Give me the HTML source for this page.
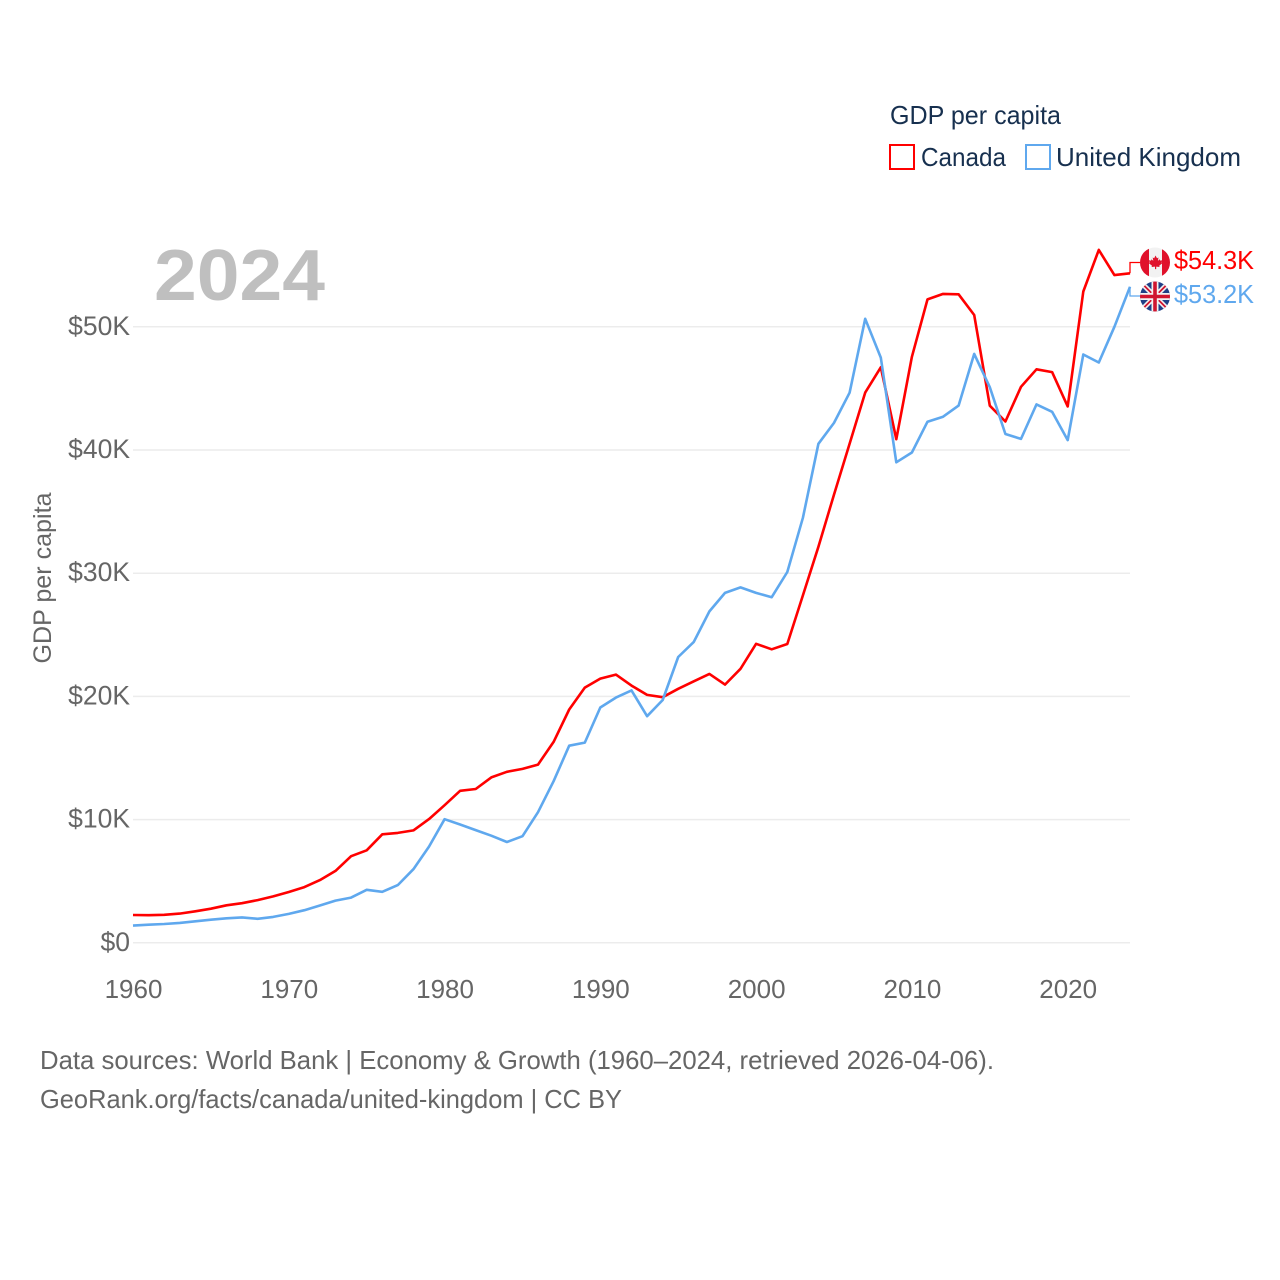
<!DOCTYPE html>
<html lang="en">
<head>
<meta charset="utf-8">
<title>GDP per capita: Canada and United Kingdom</title>
<style>
html,body{margin:0;padding:0;background:#fff;width:1280px;height:1280px;overflow:hidden}
svg{display:block;font-family:"Liberation Sans",sans-serif}
</style>
</head>
<body>
<svg id="chart" xmlns="http://www.w3.org/2000/svg" width="1280" height="1280" viewBox="0 0 1280 1280">
  <rect width="1280" height="1280" fill="#fff"/>
  <defs>
    <clipPath id="flag-clip-ca"><circle cx="1155" cy="262.500" r="15"/></clipPath>
    <clipPath id="flag-clip-uk"><circle cx="1155" cy="296.500" r="15"/></clipPath>
  </defs>
  <g id="grid"></g>
  <g id="y-ticks"></g>
  <g id="x-ticks"></g>
  <text transform="translate(51,578) rotate(-90)" text-anchor="middle" font-size="25" fill="#666" textLength="171" lengthAdjust="spacingAndGlyphs">GDP per capita</text>
  <text x="154" y="300" font-size="72" font-weight="700" fill="#bfbfbf" textLength="171" lengthAdjust="spacingAndGlyphs">2024</text>
  <g id="series"></g>

  <g clip-path="url(#flag-clip-ca)">
    <rect x="1140" y="247" width="30" height="31" fill="#f2f2f2"/>
    <rect x="1140" y="247" width="9" height="31" fill="#e0112b"/>
    <rect x="1162" y="247" width="8" height="31" fill="#e0112b"/>
    <path d="M1155.500 255.500l1.500 2.800 1.500-.8-.6 3.400 1.800-1.600.5 1.300 2.200-.4-.8 2.300 1 .5-3.400 2.700.4 1.300-3.400-.4v2.500h-1.200v-2.500l-3.400.4.400-1.300-3.400-2.700 1-.5-.8-2.300 2.200.4.500-1.300 1.800 1.600-.6-3.400 1.500.8z" fill="#e0112b"/>
  </g>
  <g clip-path="url(#flag-clip-uk)">
    <rect x="1140" y="281" width="30" height="31" fill="#1f3f86"/>
    <path d="M1140 281.500l30 30M1170 281.500l-30 30" stroke="#f2f2f2" stroke-width="5"/>
    <path d="M1140 281.500l30 30M1170 281.500l-30 30" stroke="#d0152f" stroke-width="1.800"/>
    <path d="M1155 281v31M1140 296.500h30" stroke="#f2f2f2" stroke-width="7"/>
    <path d="M1155 281v31M1140 296.500h30" stroke="#d0152f" stroke-width="3.600"/>
  </g>

  <text x="1174" y="269" font-size="26" fill="#ff0000" textLength="80" lengthAdjust="spacingAndGlyphs">$54.3K</text>
  <text x="1174" y="303" font-size="26" fill="#5fa8ee" textLength="80" lengthAdjust="spacingAndGlyphs">$53.2K</text>

  <g>
    <text x="890" y="124" font-size="26" fill="#17304f" textLength="171" lengthAdjust="spacingAndGlyphs">GDP per capita</text>
    <g>
      <rect x="890" y="145" width="24" height="24" fill="#fff" stroke="#ff0000" stroke-width="2"/>
      <text x="921" y="166" font-size="26" fill="#17304f" textLength="85" lengthAdjust="spacingAndGlyphs">Canada</text>
    </g>
    <g>
      <rect x="1026" y="145" width="24" height="24" fill="#fff" stroke="#5fa8ee" stroke-width="2"/>
      <text x="1056" y="166" font-size="26" fill="#17304f" textLength="185" lengthAdjust="spacingAndGlyphs">United Kingdom</text>
    </g>
  </g>

  <text x="40" y="1069" font-size="26" fill="#666" textLength="954" lengthAdjust="spacingAndGlyphs">Data sources: World Bank | Economy &amp; Growth (1960–2024, retrieved 2026-04-06).</text>
  <text x="40" y="1108" font-size="26" fill="#666" textLength="582" lengthAdjust="spacingAndGlyphs">GeoRank.org/facts/canada/united-kingdom | CC BY</text>
</svg>
<script>
const years = [1960,1961,1962,1963,1964,1965,1966,1967,1968,1969,1970,1971,1972,1973,1974,1975,1976,1977,1978,1979,1980,1981,1982,1983,1984,1985,1986,1987,1988,1989,1990,1991,1992,1993,1994,1995,1996,1997,1998,1999,2000,2001,2002,2003,2004,2005,2006,2007,2008,2009,2010,2011,2012,2013,2014,2015,2016,2017,2018,2019,2020,2021,2022,2023,2024];
const canadaValues = [2259,2240,2269,2374,2555,2770,3047,3217,3463,3764,4122,4520,5089,5838,7033,7512,8809,8919,9124,10043,11171,12337,12482,13425,13877,14115,14461,16308,18939,20716,21448,21768,20879,20121,19935,20614,21227,21827,20957,22238,24271,23822,24255,28200,32144,36382,40504,44659,46710,40876,47562,52224,52670,52638,50956,43596,42316,45129,46549,46327,43538,52863,56240,54200,54340];
const ukValues = [1398,1472,1526,1613,1748,1873,1986,2058,1952,2100,2348,2650,3030,3426,3665,4300,4138,4681,5977,7805,10033,9600,9150,8690,8180,8650,10600,13120,16000,16250,19100,19900,20490,18390,19710,23200,24420,26900,28400,28850,28400,28050,30100,34500,40500,42200,44650,50650,47500,39000,39800,42300,42700,43600,47800,45100,41300,40900,43700,43100,40800,47750,47100,50000,53250];
const yTickValues = [0,10000,20000,30000,40000,50000];
const yTickLabels = ['$0','$10K','$20K','$30K','$40K','$50K'];
const xTickValues = [1960,1970,1980,1990,2000,2010,2020];

const NS = 'http://www.w3.org/2000/svg';
const xMin = 133, xMax = 1130, yZero = 942.8, yFifty = 326.8;
function xScale(year) { return xMin + (year - 1960) / (2024 - 1960) * (xMax - xMin); }
function yScale(value) { return yZero + value / 50000 * (yFifty - yZero); }

const gridGroup = document.getElementById('grid');
const yGroup = document.getElementById('y-ticks');
const xGroup = document.getElementById('x-ticks');
const seriesGroup = document.getElementById('series');

yTickValues.forEach(function (v, i) {
  const line = document.createElementNS(NS, 'line');
  
  
  line.setAttribute('x1', xMin);
  line.setAttribute('x2', xMax);
  line.setAttribute('y1', yScale(v));
  line.setAttribute('y2', yScale(v));
  line.setAttribute('stroke', '#ececec');
  line.setAttribute('stroke-width', '1.5');
  gridGroup.appendChild(line);

  const label = document.createElementNS(NS, 'text');
  
  
  label.setAttribute('x', 130);
  label.setAttribute('y', yScale(v) + 8);
  label.setAttribute('text-anchor', 'end');
  label.setAttribute('font-size', '26.5');
  label.setAttribute('fill', '#666');
  label.textContent = yTickLabels[i];
  yGroup.appendChild(label);
});

xTickValues.forEach(function (year) {
  const label = document.createElementNS(NS, 'text');
  
  
  label.setAttribute('x', xScale(year) + 0.5);
  label.setAttribute('y', 998);
  label.setAttribute('text-anchor', 'middle');
  label.setAttribute('font-size', '26');
  label.setAttribute('fill', '#666');
  label.textContent = String(year);
  xGroup.appendChild(label);
});

function pathFor(values) {
  return values.map(function (v, i) {
    return (i ? 'L' : 'M') + xScale(years[i]).toFixed(1) + ' ' + yScale(v).toFixed(1);
  }).join('');
}

const canadaLine = document.createElementNS(NS, 'path');


canadaLine.setAttribute('d', pathFor(canadaValues));
canadaLine.setAttribute('fill', 'none');
canadaLine.setAttribute('stroke', '#ff0000');
canadaLine.setAttribute('stroke-width', '2.6');
canadaLine.setAttribute('stroke-linejoin', 'round');
seriesGroup.appendChild(canadaLine);

const ukLine = document.createElementNS(NS, 'path');


ukLine.setAttribute('d', pathFor(ukValues));
ukLine.setAttribute('fill', 'none');
ukLine.setAttribute('stroke', '#5fa8ee');
ukLine.setAttribute('stroke-width', '2.6');
ukLine.setAttribute('stroke-linejoin', 'round');
seriesGroup.appendChild(ukLine);

const lastIndex = years.length - 1;

const canadaConnector = document.createElementNS(NS, 'path');


canadaConnector.setAttribute('d', 'M' + xMax + ' ' + yScale(canadaValues[lastIndex]).toFixed(1) + 'V262.5H1140');
canadaConnector.setAttribute('fill', 'none');
canadaConnector.setAttribute('stroke', '#ff0000');
canadaConnector.setAttribute('stroke-width', '1.3');
seriesGroup.appendChild(canadaConnector);

const ukConnector = document.createElementNS(NS, 'path');


ukConnector.setAttribute('d', 'M' + xMax + ' ' + yScale(ukValues[lastIndex]).toFixed(1) + 'V296H1140');
ukConnector.setAttribute('fill', 'none');
ukConnector.setAttribute('stroke', '#5fa8ee');
ukConnector.setAttribute('stroke-width', '1.3');
seriesGroup.appendChild(ukConnector);
</script>
</body>
</html>
